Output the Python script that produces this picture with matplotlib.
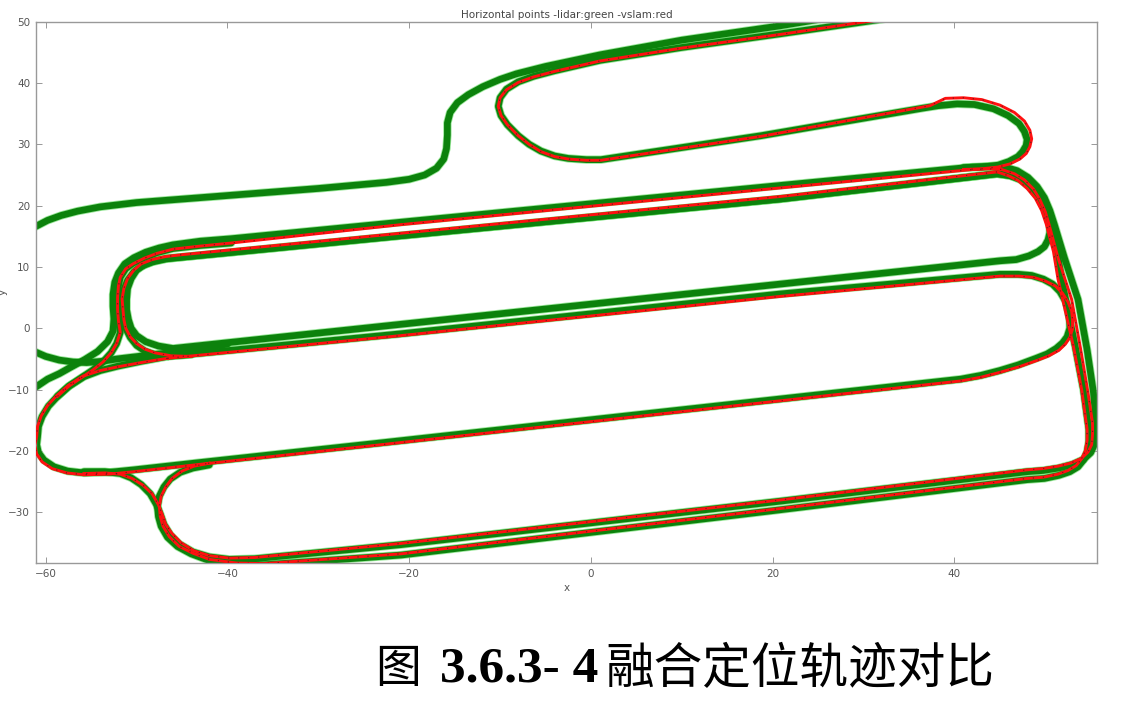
import matplotlib
matplotlib.use("Agg")
import matplotlib.pyplot as plt

# lidar (green) trajectory pieces (x, y in metres)
lidar_spur = [(-61.1, 16.6), (-59.8, 17.6), (-58.3, 18.4), (-56.5, 19.1), (-54.0, 19.8), (-50.0, 20.5),
              (-43.0, 21.3), (-30.0, 22.8), (-22.5, 23.8), (-20.0, 24.3), (-18.3, 25.0), (-17.0, 26.1),
              (-16.2, 27.6), (-15.9, 29.3), (-15.8, 31.5), (-15.8, 33.5), (-15.5, 35.2), (-14.7, 36.8),
              (-13.5, 38.1), (-11.9, 39.4), (-10.0, 40.6), (-8.2, 41.5), (-5.0, 42.7), (1.0, 44.6),
              (10.0, 47.0), (20.7, 49.3), (25.2, 50.4)]
lidar_top_loop = [(32.5, 50.5), (20.7, 48.0), (10.0, 45.8), (1.0, 43.7), (-4.0, 42.0), (-6.3, 41.1),
                  (-8.0, 40.2), (-9.3, 39.0), (-10.0, 37.6), (-10.2, 36.2), (-9.9, 34.7), (-9.2, 33.2),
                  (-8.0, 31.4), (-6.8, 30.0), (-5.5, 28.9), (-4.0, 28.1), (-2.5, 27.7), (-0.5, 27.5),
                  (1.1, 27.5), (18.7, 31.4), (36.5, 35.9), (38.2, 36.3), (40.3, 36.6), (42.2, 36.5),
                  (44.3, 35.8), (45.9, 34.7), (47.1, 33.4), (47.7, 32.1), (48.0, 30.8), (47.9, 29.8),
                  (47.5, 28.8), (47.0, 28.0), (46.0, 27.2), (44.8, 26.6), (43.0, 26.3), (41.0, 26.2)]
lidar_outer = [(-61.1, -9.6), (-59.8, -8.3), (-58.5, -7.4), (-57.3, -6.4), (-55.7, -5.1), (-54.3, -3.8),
               (-53.2, -2.2), (-52.6, -0.5), (-52.5, 1.5), (-52.6, 3.6), (-52.6, 5.5), (-52.4, 7.5),
               (-52.0, 9.0), (-51.3, 10.5), (-50.3, 11.5), (-49.0, 12.4), (-47.5, 13.1), (-46.0, 13.6),
               (-43.0, 14.2), (-39.6, 14.6), (-20.9, 17.3), (20.9, 23.3), (42.0, 26.3), (44.0, 26.4),
               (45.5, 26.3), (46.9, 25.7), (48.1, 24.6), (49.1, 23.1), (49.9, 21.3), (50.5, 19.2),
               (51.0, 16.9), (52.1, 11.5), (53.6, 4.7), (54.6, -3.5), (55.3, -10.5), (55.6, -15.5),
               (55.6, -17.5), (55.4, -19.0), (55.0, -20.3), (54.2, -21.4), (53.0, -22.2), (51.5, -22.8),
               (49.8, -23.2), (48.0, -23.4), (20.9, -28.2), (-20.9, -35.3), (-37.0, -37.6),
               (-39.8, -37.7), (-42.0, -37.3), (-43.8, -36.5), (-45.3, -35.2), (-46.3, -33.7),
               (-47.0, -32.0), (-47.4, -30.3), (-47.8, -28.8), (-48.5, -27.0), (-49.5, -25.5),
               (-50.6, -24.4), (-51.8, -23.7), (-53.5, -23.4), (-55.8, -23.4)]
lidar_inner = [(-42.0, -22.3), (-43.8, -22.8), (-45.2, -23.5), (-46.3, -24.6), (-47.0, -25.9),
               (-47.5, -27.4), (-47.7, -29.0), (-47.6, -30.7), (-47.3, -32.3), (-46.6, -34.1),
               (-45.5, -35.6), (-44.0, -36.8), (-42.0, -37.9), (-39.0, -38.5), (-36.0, -38.6),
               (-20.9, -37.0), (20.9, -29.6), (48.0, -24.7), (49.9, -24.5), (51.5, -24.0),
               (52.7, -23.4), (53.6, -22.6), (54.2, -21.5), (54.6, -20.2), (54.8, -18.5),
               (54.8, -16.5), (54.2, -10.0), (53.3, -3.0), (52.4, 3.5), (51.8, 8.0), (51.3, 12.5),
               (50.5, 17.0), (50.0, 19.3), (49.3, 21.3), (48.4, 22.9), (47.3, 24.2), (46.1, 24.9),
               (44.7, 25.2), (20.9, 21.1), (-20.9, 15.1), (-45.0, 11.6), (-46.8, 11.3), (-48.3, 10.8),
               (-49.5, 10.1), (-50.3, 9.2), (-51.0, 7.8), (-51.4, 6.3), (-51.6, 4.6), (-51.5, 3.0),
               (-51.4, 1.4), (-51.2, 0.0), (-50.7, -1.5), (-50.0, -2.8), (-49.1, -3.7), (-48.0, -4.3),
               (-46.2, -4.5), (-44.0, -4.3)]
lidar_mid_loop = [(44.7, 25.2), (20.9, 21.1), (-20.9, 15.1), (-45.0, 11.6), (-46.6, 11.4), (-48.0, 11.0),
                  (-49.1, 10.4), (-50.0, 9.5), (-50.6, 8.1), (-51.0, 6.5), (-51.1, 4.7), (-51.1, 3.0),
                  (-50.9, 1.4), (-50.6, 0.0), (-50.0, -1.2), (-49.0, -2.2), (-47.6, -2.9), (-46.0, -3.3),
                  (45.0, 11.0), (46.8, 11.2), (48.2, 11.8), (49.2, 12.5), (49.9, 13.3), (50.3, 14.4),
                  (50.5, 15.6), (50.5, 17.1), (50.3, 18.6), (49.9, 20.3), (49.4, 21.9), (48.5, 23.3),
                  (47.3, 24.4), (46.1, 24.9), (44.7, 25.2)]
lidar_low_loop = [(-46.6, -4.6), (-20.9, -0.9), (20.9, 5.6), (45.0, 8.8), (47.0, 8.8), (48.5, 8.6),
                  (49.8, 8.0), (50.8, 7.2), (51.6, 6.0), (52.2, 4.5), (52.6, 3.0), (52.7, 1.5),
                  (52.7, 0.0), (52.4, -1.4), (51.9, -2.4), (51.2, -3.3), (50.2, -4.2), (49.0, -4.9),
                  (47.0, -6.0), (45.0, -6.9), (42.9, -7.7), (40.7, -8.3), (-23.1, -18.7), (-43.0, -21.9),
                  (-50.3, -23.1), (-53.0, -23.5), (-55.8, -23.6), (-57.6, -23.3), (-59.1, -22.6),
                  (-60.2, -21.5), (-60.8, -20.3), (-61.0, -19.0), (-60.9, -17.7), (-60.8, -16.0),
                  (-60.4, -14.4), (-59.7, -12.7), (-58.7, -11.1), (-57.4, -9.4), (-55.8, -7.9),
                  (-54.0, -6.9), (-52.1, -6.2), (-49.5, -5.4), (-46.6, -4.6)]
lidar_left_in = [(-61.1, -3.9), (-60.0, -4.6), (-58.5, -5.2), (-57.0, -5.5), (-55.5, -5.6),
                 (-53.8, -5.4), (-52.1, -5.0), (-47.0, -4.1), (-40.0, -2.6)]
lidar_left_mid = [(-39.6, 13.9), (-43.0, 13.5), (-46.0, 13.0), (-47.8, 12.3), (-49.2, 11.5),
                  (-50.4, 10.6), (-51.2, 9.7), (-51.8, 8.3), (-52.0, 6.9), (-52.1, 5.0), (-52.1, 3.1),
                  (-52.0, 1.2), (-51.8, -0.7), (-52.2, -2.5), (-52.8, -4.0), (-53.7, -5.5),
                  (-54.8, -6.8), (-56.2, -8.2), (-57.5, -9.5), (-58.7, -11.1)]

# vslam (red) trajectory pieces
vslam_top_loop = [(32.5, 50.5), (20.7, 47.9), (10.0, 45.7), (1.0, 43.6), (-4.0, 41.9), (-6.3, 41.0),
                  (-8.0, 40.1), (-9.3, 38.9), (-10.0, 37.6), (-10.2, 36.2), (-9.9, 34.7), (-9.2, 33.2),
                  (-8.0, 31.4), (-6.8, 30.0), (-5.5, 28.8), (-4.0, 28.0), (-2.5, 27.6), (-0.5, 27.4),
                  (1.1, 27.4), (18.7, 31.3), (37.3, 36.3), (39.0, 37.5), (41.0, 37.6), (43.0, 37.3),
                  (45.0, 36.4), (46.6, 35.2), (47.7, 33.8), (48.3, 32.3), (48.5, 30.9), (48.3, 29.6),
                  (47.9, 28.5), (47.2, 27.6), (46.1, 26.8), (44.8, 26.3), (43.0, 26.0), (41.0, 25.9)]
vslam_outer = [(-58.7, -11.1), (-57.5, -9.5), (-56.2, -8.2), (-54.8, -6.8), (-53.7, -5.5), (-52.8, -4.0),
               (-52.2, -2.5), (-51.8, -0.7), (-52.0, 1.2), (-52.1, 3.1), (-52.1, 5.0), (-52.0, 6.9),
               (-51.8, 8.3), (-51.2, 9.7), (-50.4, 10.5), (-49.2, 11.4), (-47.8, 12.2), (-46.0, 12.9),
               (-43.0, 13.4), (-39.6, 13.9), (-20.9, 16.9), (20.9, 22.9), (42.0, 25.9), (43.8, 26.0),
               (45.2, 25.9), (46.6, 25.2), (47.7, 24.2), (48.7, 22.7), (49.4, 21.0), (50.0, 19.0),
               (50.4, 17.0), (51.4, 11.5), (52.9, 4.7), (53.9, -3.5), (54.7, -10.5), (55.2, -15.5),
               (55.2, -17.3), (55.1, -19.0), (54.7, -20.2), (54.0, -21.2), (52.8, -22.0), (51.4, -22.5),
               (49.7, -22.9), (48.0, -23.1), (20.9, -28.0), (-20.9, -35.1), (-37.0, -37.4),
               (-39.8, -37.5), (-42.0, -37.1), (-43.7, -36.3), (-45.1, -35.0), (-46.1, -33.5),
               (-46.8, -32.0), (-47.2, -30.3), (-47.6, -28.8), (-48.3, -27.0), (-49.3, -25.6),
               (-50.5, -24.5), (-51.8, -23.8), (-53.5, -23.6), (-55.8, -23.7)]
vslam_inner = [(-42.0, -22.0), (-43.7, -22.5), (-45.0, -23.3), (-46.1, -24.5), (-46.8, -25.9),
               (-47.3, -27.4), (-47.5, -29.0), (-47.4, -30.7), (-47.1, -32.3), (-46.4, -34.0),
               (-45.3, -35.6), (-43.8, -36.7), (-42.0, -37.7), (-39.0, -38.3), (-36.0, -38.4),
               (-20.9, -36.8), (20.9, -29.4), (48.0, -24.5), (49.8, -24.3), (51.4, -23.8),
               (52.5, -23.2), (53.4, -22.4), (54.0, -21.3), (54.4, -20.0), (54.6, -18.3),
               (54.6, -16.5), (54.0, -10.0), (53.1, -3.0), (52.1, 3.5), (51.4, 8.0), (50.9, 12.5),
               (50.1, 17.0), (49.6, 19.2), (48.9, 21.2), (48.0, 22.8), (47.0, 24.1), (45.9, 24.9),
               (44.7, 25.5), (20.9, 21.5), (-20.9, 15.5), (-45.0, 12.0), (-46.8, 11.7), (-48.3, 11.2),
               (-49.5, 10.5), (-50.3, 9.5), (-51.0, 8.1), (-51.4, 6.5), (-51.6, 4.8), (-51.5, 3.0),
               (-51.4, 1.4), (-51.2, 0.0), (-50.7, -1.4), (-50.0, -2.5), (-49.1, -3.4), (-48.0, -4.0),
               (-46.2, -4.5), (-44.0, -4.6)]
vslam_low_loop = [(-46.6, -4.9), (-20.9, -1.2), (20.9, 5.2), (45.0, 8.5), (47.1, 8.5), (48.7, 8.3),
                  (50.0, 7.7), (51.1, 6.9), (51.9, 5.7), (52.5, 4.3), (52.9, 2.8), (53.0, 1.4),
                  (53.0, -0.1), (52.7, -1.5), (52.2, -2.6), (51.5, -3.6), (50.4, -4.5), (49.2, -5.2),
                  (47.1, -6.3), (45.0, -7.2), (42.9, -8.0), (40.7, -8.6), (-23.1, -19.0), (-43.0, -22.2),
                  (-50.3, -23.4), (-53.0, -23.8), (-55.8, -23.9), (-57.7, -23.6), (-59.3, -22.9),
                  (-60.4, -21.8), (-61.0, -20.5), (-61.2, -19.1), (-61.0, -17.7), (-60.9, -16.0),
                  (-60.5, -14.3), (-59.8, -12.6), (-58.8, -11.0), (-57.5, -9.3), (-55.9, -7.8),
                  (-54.0, -6.9), (-52.1, -6.3), (-49.5, -5.6), (-46.6, -4.9)]

lidar_paths = [lidar_spur, lidar_top_loop, lidar_outer, lidar_inner, lidar_mid_loop,
               lidar_low_loop, lidar_left_in, lidar_left_mid]
vslam_paths = [vslam_top_loop, vslam_outer, vslam_inner, vslam_low_loop]

fig = plt.figure(figsize=(11.28, 7.10), dpi=100)
ax = fig.add_axes([0.0317, 0.207, 0.9409, 0.7624])

for pts in lidar_paths:
    xs, ys = zip(*pts)
    ax.plot(xs, ys, color="#35d035", lw=6.0, alpha=0.5, solid_joinstyle="round",
            solid_capstyle="round", zorder=1)
    ax.plot(xs, ys, color="#0c820c", lw=4.8, solid_joinstyle="round",
            solid_capstyle="round", zorder=2)

for pts in vslam_paths:
    xs, ys = zip(*pts)
    ax.plot(xs, ys, color="#ff1010", lw=2.1, solid_joinstyle="round", zorder=3)
    ax.plot(xs, ys, color="#202020", lw=0.9, ls=(0, (1, 7)), alpha=0.6, zorder=4)

ax.set_xlim(-61.1, 55.7)
ax.set_ylim(-38.3, 50)
ax.set_xticks([-60, -40, -20, 0, 20, 40])
ax.set_yticks([-30, -20, -10, 0, 10, 20, 30, 40, 50])
ax.tick_params(direction="in", top=True, right=True, length=4, width=0.6,
               labelsize=7.5, labelcolor="#555555", color="#888888", pad=4)
for s in ax.spines.values():
    s.set_color("#999999")
    s.set_linewidth(1.0)
ax.set_xlabel("x", fontsize=7.5, color="#555555", labelpad=3)
ax.set_ylabel("y", fontsize=7.5, color="#555555")
ax.yaxis.set_label_coords(-0.026, 0.5)
ax.set_title("Horizontal points -lidar:green -vslam:red", fontsize=7.5, color="#444444", pad=3)

cy = 1 - 669 / 710
fig.text(398 / 1128, cy, "图", fontsize=33, family=["Noto Sans CJK SC"],
         ha="center", va="center", color="black")
fig.text(440 / 1128, cy, "3.6.3- 4", fontsize=37, family=["Liberation Serif"], weight="bold",
         ha="left", va="center", color="black")
fig.text(605 / 1128, cy, "融合定位轨迹对比", fontsize=35, family=["Noto Sans CJK SC"],
         ha="left", va="center", color="black")

fig.savefig("out.png", dpi=100)
